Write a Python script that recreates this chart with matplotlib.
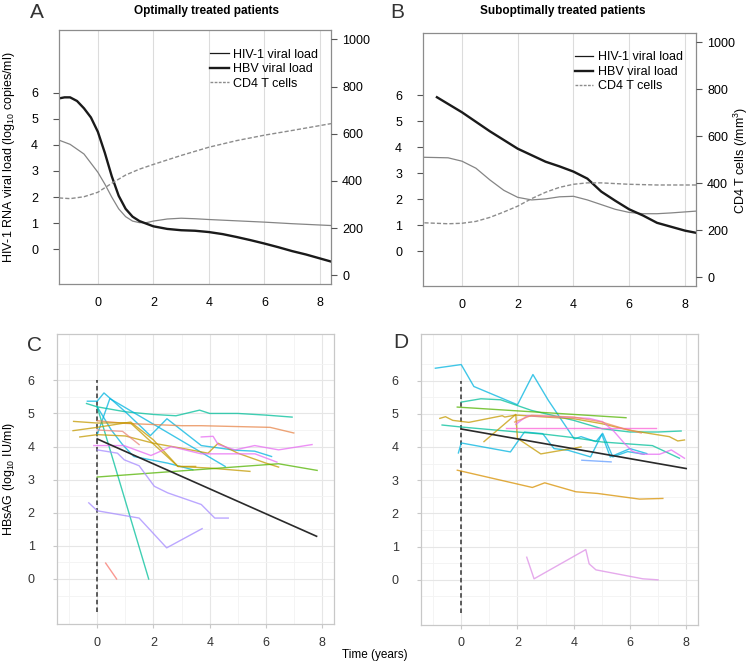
"""HIV/HBV co-infection panels: viral load + CD4 curves (A, B) and HBsAg trajectories (C, D)."""
import matplotlib
matplotlib.use("Agg")
import matplotlib.pyplot as plt
from matplotlib.lines import Line2D

plt.rcParams["font.family"] = ["Liberation Sans", "DejaVu Sans"]
plt.rcParams["mathtext.fontset"] = "custom"
plt.rcParams["mathtext.rm"] = "Liberation Sans"
plt.rcParams["mathtext.it"] = "Liberation Sans"

# ---- panel A: optimally treated ----
A_HIV_X = [-1.4, -1.0, -0.5, 0, 0.25, 0.5, 0.75, 1.0, 1.25, 1.5, 1.75, 2.0, 2.5, 3.0, 3.5, 4.0, 5.0, 6.0, 7.0, 8.4]
A_HIV_Y = [4.18, 4.02, 3.65, 2.95, 2.5, 2.0, 1.55, 1.25, 1.08, 1.02, 1.02, 1.08, 1.16, 1.19, 1.17, 1.14, 1.09, 1.04, 0.98, 0.91]
A_HBV_X = [-1.4, -1.2, -1.0, -0.75, -0.5, -0.25, 0, 0.25, 0.5, 0.75, 1.0, 1.25, 1.5, 1.75, 2.0, 2.5, 3.0,
           3.5, 4.0, 4.5, 5.0, 5.5, 6.0, 6.5, 7.0, 7.5, 8.0, 8.4]
A_HBV_Y = [5.78, 5.82, 5.82, 5.68, 5.4, 5.05, 4.5, 3.7, 2.8, 2.05, 1.55, 1.25, 1.08, 0.98, 0.88, 0.78, 0.73,
           0.71, 0.66, 0.58, 0.47, 0.35, 0.22, 0.08, -0.07, -0.2, -0.35, -0.47]
A_CD4_X = [-1.4, -1.0, -0.5, 0, 0.5, 1.0, 1.5, 2.0, 3.0, 4.0, 5.0, 6.0, 7.0, 8.4]
A_CD4_Y = [328, 325, 333, 352, 390, 425, 450, 470, 508, 543, 571, 594, 614, 643]

# ---- panel B: suboptimally treated ----
B_HIV_X = [-1.35, -0.5, 0, 0.5, 1.0, 1.5, 2.0, 2.5, 3.0, 3.5, 4.0, 4.5, 5.0, 5.5, 6.0, 6.5, 7.0, 7.5, 8.4]
B_HIV_Y = [3.62, 3.6, 3.47, 3.2, 2.75, 2.35, 2.08, 1.98, 2.02, 2.1, 2.12, 1.98, 1.8, 1.62, 1.5, 1.45, 1.45, 1.48, 1.55]
B_HBV_X = [-0.9, 0, 1.0, 2.0, 2.5, 3.0, 3.5, 4.0, 4.5, 5.0, 5.5, 6.0, 6.5, 7.0, 7.5, 8.0, 8.38]
B_HBV_Y = [5.93, 5.35, 4.62, 3.95, 3.7, 3.45, 3.27, 3.07, 2.8, 2.3, 1.95, 1.62, 1.38, 1.1, 0.95, 0.8, 0.72]
B_CD4_X = [-1.35, -0.5, 0, 0.5, 1.0, 1.5, 2.0, 2.5, 3.0, 3.5, 4.0, 4.5, 5.0, 6.0, 7.0, 8.4]
B_CD4_Y = [232, 228, 230, 238, 255, 278, 303, 335, 362, 383, 396, 402, 402, 396, 393, 393]

# ---- panel C: HBsAg trajectories, optimally treated ----
C_LINES = [
    ("#00BF9A", [-0.38, 0, 1.0, 2.0, 2.8, 3.64, 4.0, 5.0, 6.0, 6.93], [5.3, 5.2, 5.05, 4.97, 4.93, 5.1, 5.0, 5.0, 4.95, 4.89]),
    ("#00B4E0", [-0.35, 0, 0.24, 1.0, 1.89, 2.48, 3.7, 4.9, 5.6, 6.2], [5.37, 5.37, 5.62, 5.05, 4.33, 4.84, 4.03, 3.89, 3.86, 3.7]),
    ("#00B4E0", [0, 0.45, 4.55], [4.36, 5.45, 3.4]),
    ("#00B4E0", [0, 0.5, 0.9, 1.3, 2.5, 3.4], [5.2, 4.5, 4.06, 3.7, 3.5, 3.3]),
    ("#00BF9A", [0, 1.83], [5.2, 0.0]),
    ("#E8864A", [0, 1.0, 3.0, 3.7, 6.15, 6.99], [4.78, 4.7, 4.63, 4.63, 4.58, 4.41]),
    ("#C49A00", [-0.84, 0, 1.0, 1.2, 2.87, 4.0, 5.43], [4.76, 4.71, 4.72, 4.7, 3.4, 3.35, 3.25]),
    ("#C49A00", [-0.86, 0, 1.19, 2.0, 2.87, 3.5], [4.48, 4.58, 4.74, 4.2, 3.4, 3.4]),
    ("#C49A00", [-0.62, 0, 1.0, 2.0, 3.0, 3.94, 4.3, 5.0, 6.0, 6.45], [4.29, 4.36, 4.32, 4.1, 3.95, 3.8, 4.1, 3.8, 3.5, 3.38]),
    ("#53B400", [0, 6.45, 7.82], [3.08, 3.48, 3.28]),
    ("#E76BF3", [-0.12, 0.95, 1.91, 2.63, 3.7, 4.78, 5.61, 6.39], [4.03, 4.03, 3.73, 4.0, 3.78, 3.78, 3.78, 3.53]),
    ("#E76BF3", [3.7, 4.12, 4.3, 4.9, 5.6, 6.45, 7.64], [4.29, 4.31, 4.06, 3.9, 4.03, 3.9, 4.06]),
    ("#E8857A", [0, 0.9, 1.49], [4.5, 4.46, 4.06]),
    ("#A58AFF", [0, 0.72, 0.96, 1.49, 2.03, 2.51, 3.7, 4.18, 4.66], [3.9, 3.8, 3.6, 3.42, 2.8, 2.6, 2.25, 1.84, 1.84]),
    ("#A58AFF", [-0.3, 0, 1.49, 2.47, 3.73], [2.3, 2.06, 1.84, 0.94, 1.52]),
    ("#F8766D", [0.3, 0.69], [0.48, 0.0]),
]
C_FIT_X = [0, 7.8]
C_FIT_Y = [4.23, 1.29]

# ---- panel D: HBsAg trajectories, suboptimally treated ----
D_LINES = [
    ("#00B4E0", [-0.92, 0, 0.45, 2.0, 2.55, 3.1, 4.02, 4.26, 4.79, 5.03, 5.39, 5.92, 6.5],
     [6.37, 6.48, 5.82, 5.27, 6.18, 5.4, 4.24, 4.31, 4.16, 4.41, 3.7, 3.86, 3.78]),
    ("#00B4E0", [-0.1, 0, 1.75, 2.25, 2.9, 3.3, 3.8, 4.6, 5.0, 5.3, 6.0, 6.6],
     [3.82, 4.12, 3.85, 4.45, 4.4, 3.95, 3.9, 3.7, 4.38, 3.7, 3.95, 3.8]),
    ("#00BF9A", [-0.68, 0, 2.0, 3.0, 4.0, 5.0, 6.46, 6.8, 7.76], [4.66, 4.6, 4.45, 4.38, 4.28, 4.15, 4.06, 4.04, 3.66]),
    ("#00BF9A", [0, 0.7, 1.4, 2.5, 4.0, 5.0, 6.0, 7.0, 7.82], [5.35, 5.45, 5.42, 5.1, 4.8, 4.55, 4.45, 4.45, 4.48]),
    ("#53B400", [-0.14, 5.86], [5.2, 4.88]),
    ("#C49A00", [-0.76, -0.56, -0.3, 0.27, 1.46, 1.55, 1.94, 3.0, 4.0, 5.0, 6.0, 7.4, 7.7, 7.94],
     [4.86, 4.91, 4.8, 4.74, 4.94, 4.9, 4.96, 4.9, 4.85, 4.7, 4.5, 4.31, 4.18, 4.21]),
    ("#C49A00", [0.81, 1.94, 2.0, 2.83, 4.26], [4.16, 4.98, 4.26, 3.79, 4.0]),
    ("#D89000", [-0.14, 2.53, 2.97, 4.08, 4.85, 6.34, 7.17], [3.3, 2.78, 2.92, 2.65, 2.6, 2.43, 2.45]),
    ("#E76BF3", [1.94, 2.35, 3.36, 4.55, 5.03, 5.44, 5.8, 6.1, 6.46, 7.05, 7.47, 7.94],
     [4.68, 4.94, 4.91, 4.86, 4.76, 4.46, 4.11, 3.86, 3.78, 3.78, 3.91, 3.66]),
    ("#FB61D7", [1.58, 6.93], [4.58, 4.58]),
    ("#F08A5D", [1.9, 2.5, 4.0, 5.0, 5.74, 6.4], [4.75, 4.95, 4.9, 4.75, 4.56, 4.42]),
    ("#619CFF", [4.29, 5.33], [3.6, 3.55]),
    ("#DD8EE6", [2.33, 2.59, 4.43, 4.55, 4.79, 6.46, 7.0], [0.68, 0.03, 0.91, 0.48, 0.3, 0.03, 0.0]),
]
D_FIT_X = [0, 8.0]
D_FIT_Y = [4.54, 3.35]

YEAR_TICKS = [0, 2, 4, 6, 8]
LOG_TICKS = [0, 1, 2, 3, 4, 5, 6]
CD4_TICKS = [0, 200, 400, 600, 800, 1000]

W, H = 750, 662


def fig_axes(fig, left, top, right, bottom):
    return fig.add_axes([left / W, 1 - bottom / H, (right - left) / W, (bottom - top) / H])


def fig_label(fig, x, y, text, **kw):
    fig.text(x / W, 1 - y / H, text, ha="center", va="center", **kw)


def viral_panel(ax, hiv, hbv, cd4):
    ax.set_xlim(-1.4, 8.4)
    ax.set_ylim(-1.33, 8.4)
    for s in ax.spines.values():
        s.set_color("#8c8c8c")
        s.set_linewidth(0.9)
    for x in YEAR_TICKS:
        ax.axvline(x, color="#dcdcdc", lw=0.8, zorder=0)
    ax.set_xticks(YEAR_TICKS)
    ax.set_yticks(LOG_TICKS)
    ax.tick_params(axis="x", length=0, pad=9, labelsize=9)
    ax.tick_params(axis="y", length=4, pad=11, labelsize=9, color="#555555")
    ax.plot(*hiv, color="#858585", lw=0.9)
    ax.plot(*hbv, color="#1a1a1a", lw=1.7)

    ax2 = ax.twinx()
    ax2.set_ylim(-37, 1040)
    ax2.set_yticks(CD4_TICKS)
    ax2.tick_params(axis="y", length=4, pad=4, labelsize=9, color="#555555")
    for s in ax2.spines.values():
        s.set_visible(False)
    ax2.plot(*cd4, color="#8c8c8c", lw=1.0, ls=(0, (3, 1.5)))

    handles = [Line2D([], [], color="#1a1a1a", lw=0.9),
               Line2D([], [], color="#1a1a1a", lw=1.7),
               Line2D([], [], color="#8c8c8c", lw=1.0, ls=(0, (2, 1)))]
    ax.legend(handles, ["HIV-1 viral load", "HBV viral load", "CD4 T cells"],
              loc="upper left", bbox_to_anchor=(0.555, 0.927), frameon=False,
              fontsize=9, handlelength=1.5, handletextpad=0.35, labelspacing=0.2,
              borderpad=0, borderaxespad=0)
    return ax2


def hbsag_panel(ax, lines, fit_x, fit_y):
    ax.set_xlim(-1.43, 8.42)
    ax.set_ylim(-1.36, 7.4)
    ax.set_xticks(YEAR_TICKS)
    ax.set_yticks(LOG_TICKS)
    ax.set_xticks([-1, 1, 3, 5, 7], minor=True)
    ax.set_yticks([-0.5, 0.5, 1.5, 2.5, 3.5, 4.5, 5.5, 6.5], minor=True)
    ax.grid(True, which="major", color="#e6e6e6", lw=0.8)
    ax.grid(True, which="minor", color="#f3f3f3", lw=0.6)
    ax.set_axisbelow(True)
    for s in ax.spines.values():
        s.set_color("#c8c8c8")
        s.set_linewidth(0.9)
    ax.tick_params(which="major", length=3, color="#c8c8c8", labelsize=9, labelcolor="#333333")
    ax.tick_params(axis="y", which="major", pad=13)
    ax.tick_params(axis="x", which="major", pad=6)
    ax.tick_params(which="minor", length=0)
    ax.plot([0, 0], [-1, 6], color="#333333", lw=1.1, ls=(0, (3, 2)))
    for color, xs, ys in lines:
        ax.plot(xs, ys, color=color, lw=1.0, alpha=0.75)
    ax.plot(fit_x, fit_y, color="#2a2a2a", lw=1.2)


def main():
    fig = plt.figure(figsize=(7.5, 6.62), dpi=100)

    ax_a = fig_axes(fig, 59, 30, 331, 284)
    viral_panel(ax_a, (A_HIV_X, A_HIV_Y), (A_HBV_X, A_HBV_Y), (A_CD4_X, A_CD4_Y))
    ax_b = fig_axes(fig, 423, 33, 696, 286)
    viral_panel(ax_b, (B_HIV_X, B_HIV_Y), (B_HBV_X, B_HBV_Y), (B_CD4_X, B_CD4_Y))

    ax_c = fig_axes(fig, 57, 334, 334, 624)
    hbsag_panel(ax_c, C_LINES, C_FIT_X, C_FIT_Y)
    ax_d = fig_axes(fig, 421, 334, 698, 625)
    hbsag_panel(ax_d, D_LINES, D_FIT_X, D_FIT_Y)

    fig_label(fig, 9, 157, "HIV-1 RNA viral load (log$_{10}$ copies/ml)", rotation=90, fontsize=9)
    fig_label(fig, 741, 160, "CD4 T cells (/mm$^3$)", rotation=90, fontsize=9)
    fig_label(fig, 9, 479, "HBsAG (log$_{10}$ IU/ml)", rotation=90, fontsize=9)

    fig_label(fig, 206, 11, "Optimally treated patients", fontsize=8.5, fontweight="bold")
    fig_label(fig, 563, 11, "Suboptimally treated patients", fontsize=8.5, fontweight="bold")
    for letter, x, y in [("A", 37, 12), ("B", 397, 12), ("C", 35, 345), ("D", 401, 342)]:
        fig_label(fig, x, y, letter, fontsize=15, color="#333333")
    fig_label(fig, 375, 655, "Time (years)", fontsize=8.5)

    fig.savefig("out.png", dpi=100)
    plt.close(fig)


if __name__ == "__main__":
    main()
